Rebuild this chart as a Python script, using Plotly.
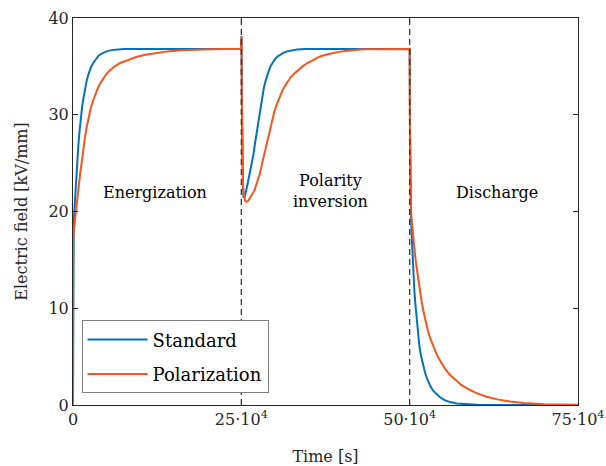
import plotly.graph_objects as go

# Field at the probe point, Standard model: time [s] and field [kV/mm]
t_std = [0, 200, 1000, 2000, 3500, 5300, 6500, 8000, 9600, 11300, 13500, 15500, 17500, 20000,
         23000, 26500, 30000, 34000, 38000, 42000, 46000, 51000, 57000, 65000, 75000,
         249500, 250300, 250800, 251300, 251800, 252400, 253300, 254300, 255500, 257000, 258500,
         260000, 262000, 264000, 266200, 268000, 270000, 273200, 277000, 281000, 283500, 286000,
         288500, 291000, 294000, 297000, 300500, 304300, 308500, 313000, 318000, 325000, 333000,
         345000, 499000,
         500000, 500400, 500900, 501500, 502100, 502800, 503500, 504200, 505000, 506000, 507000,
         508000, 509500, 511400, 513000, 514400, 516500, 518500, 520300, 523000, 525500, 527800,
         531000, 535200, 540000, 545100, 552000, 559900, 570000, 584000, 600000, 620000, 750000]
e_std = [0, 17.0, 18.6, 20.1, 22.1, 23.9, 25.4, 26.9, 28.2, 29.6, 30.8, 31.7, 32.5, 33.4,
         34.2, 34.9, 35.35, 35.75, 36.1, 36.3, 36.45, 36.58, 36.68, 36.75, 36.8,
         36.8, 38.1, 31.0, 27.0, 24.5, 22.7, 21.5, 21.4, 21.6, 22.0, 22.5,
         23.1, 23.8, 24.4, 25.1, 25.9, 26.9, 28.4, 30.2, 31.9, 32.8, 33.5,
         34.1, 34.6, 35.1, 35.5, 35.8, 36.05, 36.25, 36.42, 36.55, 36.67, 36.75,
         36.8, 36.8,
         36.8, 29.0, 24.0, 21.0, 19.3, 17.8, 16.5, 15.3, 14.1, 12.9, 11.8,
         10.8, 9.5, 8.0, 6.9, 6.1, 5.2, 4.5, 4.0, 3.3, 2.8, 2.4,
         1.9, 1.45, 1.1, 0.8, 0.5, 0.3, 0.15, 0.06, 0.02, 0.01, 0.0]

# Field at the probe point, Polarization model
t_pol = [0, 200, 1500, 3000, 4500, 6400, 8500, 10500, 12700, 15000, 17500, 20000, 22900, 26000,
         29500, 33000, 36000, 40000, 45000, 50000, 55000, 62000, 70000, 82000, 95000, 108000,
         122000, 140000, 160000, 190000, 220000,
         249500, 250300, 250800, 251300, 251800, 252400, 253300, 254300, 255500, 257300, 259000,
         261000, 263200, 266000, 269600, 272000, 274600, 277500, 281000, 284000, 286500, 289200,
         291900, 295500, 299000, 302800, 306800, 311000, 315000, 319000, 323000, 328500, 334100,
         341000, 348000, 357000, 366200, 375000, 385000, 395000, 405000, 415000, 426000, 440000,
         460000, 499000,
         500000, 500400, 500900, 501500, 502500, 503500, 504500, 506000, 508000, 510000, 512000,
         514500, 517500, 521000, 524000, 527000, 531000, 535200, 541000, 547600, 554000, 560000,
         567400, 577000, 589700, 601000, 614400, 630000, 648600, 670000, 700000, 730000, 750000]
e_pol = [0, 16.8, 18.2, 19.3, 20.3, 21.3, 22.6, 23.8, 25.1, 26.3, 27.5, 28.6, 29.7, 30.6,
         31.4, 32.1, 32.6, 33.2, 33.8, 34.25, 34.6, 35.0, 35.35, 35.7, 36.0, 36.2,
         36.38, 36.55, 36.66, 36.75, 36.8,
         36.8, 38.1, 32.0, 27.5, 24.6, 23.0, 21.9, 21.4, 21.15, 21.0, 21.05,
         21.2, 21.4, 21.75, 22.2, 22.65, 23.2, 23.9, 25.0, 25.9, 26.7, 27.6,
         28.4, 29.4, 30.3, 31.1, 31.8, 32.5, 33.0, 33.45, 33.85, 34.25, 34.6,
         35.0, 35.35, 35.7, 36.0, 36.2, 36.37, 36.5, 36.6, 36.68, 36.74, 36.78,
         36.8, 36.8,
         36.8, 29.0, 24.0, 21.4, 19.5, 18.6, 17.8, 16.7, 15.5, 14.4, 13.3,
         12.1, 10.8, 9.5, 8.5, 7.7, 6.8, 6.0, 5.1, 4.3, 3.6, 3.1,
         2.6, 2.05, 1.55, 1.17, 0.86, 0.58, 0.36, 0.2, 0.09, 0.04, 0.03]

# Instants where the voltage is reversed and then removed
switch_times = [250000, 500000]

# Phase labels and their anchor points
phase_labels = ["Energization", "Polarity<br>inversion", "Discharge"]
phase_x = [122000, 382000, 630000]
phase_y = [22.0, 22.1, 22.0]

x_ticks = [0, 250000, 500000, 750000]
x_ticktext = ["0", "25·10<sup>4</sup>", "50·10<sup>4</sup>", "75·10<sup>4</sup>"]
y_ticks = [0, 10, 20, 30, 40]

FONT = "DejaVu Serif"
INK = "#262626"

fig = go.Figure()
fig.add_trace(go.Scatter(x=t_std, y=e_std, mode="lines", name="Standard", legendgroup="std",
                         line=dict(color="#0072BD", width=2)))
fig.add_trace(go.Scatter(x=t_pol, y=e_pol, mode="lines", name="Polarization", legendgroup="pol",
                         line=dict(color="#F8541C", width=2)))

for ts in switch_times:
    fig.add_shape(type="line", x0=ts, x1=ts, xref="x", y0=0, y1=1, yref="paper",
                  line=dict(color="#383838", width=1.3, dash="6px,4px"), layer="above")

for txt, xx, yy in zip(phase_labels, phase_x, phase_y):
    fig.add_annotation(x=xx, y=yy, xref="x", yref="y", text=txt, showarrow=False,
                       font=dict(family=FONT, size=16, color="black"))

axis_common = dict(showline=True, linecolor=INK, linewidth=1, mirror="ticks",
                   ticks="inside", ticklen=5, tickcolor=INK, showgrid=False,
                   zeroline=False, automargin=False,
                   tickfont=dict(family=FONT, size=16, color=INK))

fig.update_xaxes(range=[0, 750000], tickvals=x_ticks, ticktext=x_ticktext,
                 title=dict(text="Time [s]", font=dict(family=FONT, size=16, color=INK), standoff=22),
                 **axis_common)
fig.update_yaxes(range=[0, 40], tickvals=y_ticks,
                 title=dict(text="Electric field [kV/mm]", font=dict(family=FONT, size=16, color=INK), standoff=16),
                 **axis_common)

fig.update_layout(
    width=606, height=466,
    margin=dict(l=73, r=28, t=18, b=61),
    paper_bgcolor="white", plot_bgcolor="white",
    showlegend=True,
    legend=dict(x=0.017, y=0.03, xanchor="left", yanchor="bottom",
                bgcolor="white", bordercolor="#7f7f7f", borderwidth=1,
                font=dict(family=FONT, size=18, color="black"),
                itemwidth=60, tracegroupgap=8),
)

fig.write_html("out.html")
